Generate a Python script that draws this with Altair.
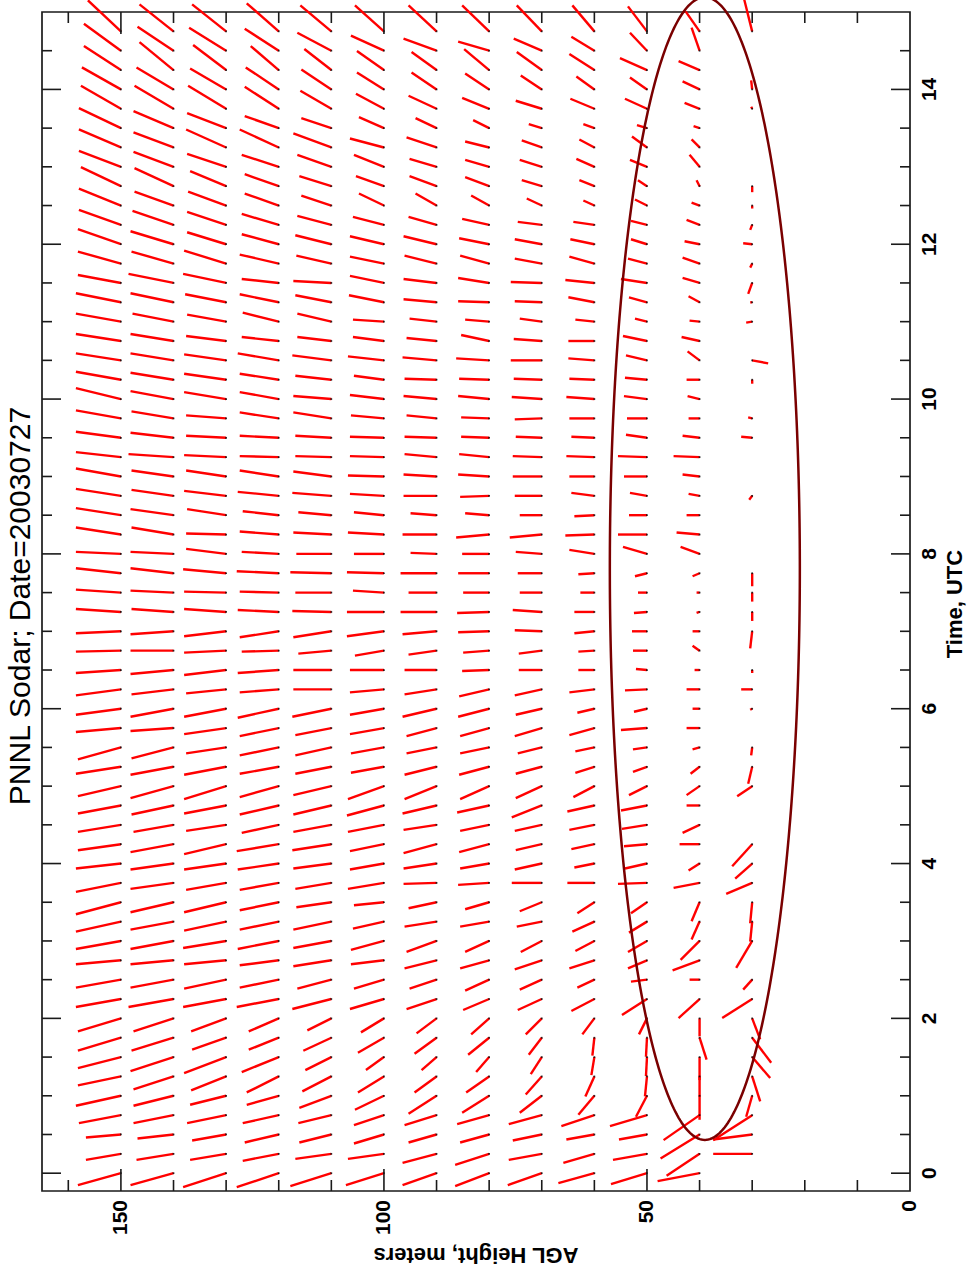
import altair as alt
import pandas as pd
import numpy as np

# ---------------- data ----------------
# observation times (UTC hours), one row of sticks every 15 minutes
TIMES = [0.0, 0.25, 0.5, 0.75, 1.0, 1.25, 1.5, 1.75, 2.0, 2.25, 2.5, 2.75,
         3.0, 3.25, 3.5, 3.75, 4.0, 4.25, 4.5, 4.75, 5.0, 5.25, 5.5, 5.75,
         6.0, 6.25, 6.5, 6.75, 7.0, 7.25, 7.5, 7.75, 8.0, 8.25, 8.5, 8.75,
         9.0, 9.25, 9.5, 9.75, 10.0, 10.25, 10.5, 10.75, 11.0, 11.25, 11.5, 11.75,
         12.0, 12.25, 12.5, 12.75, 13.0, 13.25, 13.5, 13.75, 14.0, 14.25, 14.5, 14.75]

# wind stick components (u along height axis, v along time axis), one per time step
W150 = [(43,-12),(35,-6),(35,-3),(42,-8),
        (45,-10),(43,-9),(43,-11),(43,-13),
        (43,-13),(45,-8),(45,-8),(45,-4),
        (45,-8),(45,-10),(45,-12),(45,-9),
        (45,-5),(43,-6),(43,-7),(43,-8),
        (43,-10),(45,-7),(43,-12),(45,-4),
        (45,-6),(45,-6),(45,-3),(45,-1),
        (45,-2),(45,3),(45,3),(45,5),
        (45,2),(45,7),(45,7),(45,7),
        (45,8),(45,5),(45,6),(45,8),
        (45,11),(45,8),(45,7),(45,7),
        (45,8),(45,9),(43,8),(43,12),
        (43,15),(42,15),(42,17),(40,19),
        (42,16),(42,18),(42,20),(40,23),
        (39,22),(37,24),(37,27),(33,31)]
W140 = [(43,-12),(37,-6),(36,-4),(40,-8),
        (40,-10),(40,-13),(43,-14),(42,-13),
        (40,-13),(45,-8),(43,-8),(43,-4),
        (43,-8),(43,-8),(43,-10),(43,-6),
        (43,-6),(43,-8),(40,-7),(42,-9),
        (43,-12),(43,-8),(42,-11),(43,-3),
        (43,-8),(42,-5),(43,-4),(43,0),
        (43,-3),(42,3),(43,2),(43,5),
        (43,2),(42,7),(43,6),(42,6),
        (42,6),(45,3),(43,5),(42,7),
        (43,8),(43,7),(43,7),(43,7),
        (41,8),(43,9),(45,9),(42,12),
        (43,13),(41,14),(39,14),(39,18),
        (40,15),(40,15),(40,17),(39,23),
        (37,22),(34,28),(36,24),(34,27)]
W130 = [(43,-14),(36,-6),(34,-6),(39,-8),
        (36,-9),(35,-14),(42,-16),(34,-12),
        (35,-13),(43,-8),(42,-9),(42,-4),
        (43,-7),(42,-9),(42,-10),(40,-7),
        (42,-6),(42,-10),(40,-6),(42,-8),
        (42,-13),(42,-8),(40,-6),(42,-6),
        (42,-8),(40,-4),(42,-5),(42,-2),
        (42,-5),(42,3),(42,1),(43,4),
        (40,5),(40,1),(39,6),(42,5),
        (40,6),(42,2),(40,2),(40,3),
        (42,7),(42,6),(42,6),(40,5),
        (39,7),(41,8),(43,9),(42,13),
        (39,12),(39,13),(38,14),(36,15),
        (39,13),(40,18),(39,15),(38,23),
        (36,21),(33,25),(37,23),(34,27)]
W120 = [(42,-14),(36,-7),(34,-8),(36,-8),
        (32,-9),(32,-16),(37,-15),(30,-12),
        (30,-13),(42,-8),(39,-8),(39,-5),
        (41,-8),(39,-8),(39,-8),(39,-7),
        (41,-6),(42,-7),(37,-8),(39,-9),
        (39,-11),(39,-7),(39,-8),(39,-8),
        (41,-9),(39,-3),(41,-3),(37,-1),
        (39,-6),(41,2),(39,1),(42,2),
        (37,2),(39,3),(36,4),(41,4),
        (39,6),(39,1),(39,2),(39,6),
        (39,7),(39,6),(41,7),(37,4),
        (36,9),(39,8),(37,4),(39,9),
        (37,10),(37,11),(34,12),(34,12),
        (37,12),(39,18),(34,12),(34,22),
        (33,22),(28,24),(34,22),(32,28)]
W110 = [(41,-13),(36,-5),(32,-8),(33,-8),
        (32,-12),(29,-15),(26,-13),(28,-13),
        (24,-12),(39,-10),(34,-9),(38,-6),
        (38,-7),(38,-8),(35,-5),(36,-6),
        (38,-5),(39,-6),(38,-7),(38,-9),
        (38,-9),(36,-7),(36,-8),(36,-7),
        (39,-8),(38,0),(38,0),(33,-3),
        (38,-6),(39,1),(36,0),(41,1),
        (35,0),(38,2),(33,3),(39,3),
        (38,5),(36,1),(36,2),(38,6),
        (38,3),(36,4),(39,5),(34,4),
        (34,8),(36,7),(38,2),(35,8),
        (36,9),(34,9),(30,10),(32,10),
        (34,12),(38,14),(30,10),(31,18),
        (30,20),(27,21),(34,18),(31,26)]
W100 = [(38,-12),(36,-5),(30,-9),(30,-10),
        (29,-14),(26,-16),(18,-13),(26,-15),
        (23,-14),(34,-10),(30,-9),(33,-4),
        (33,-9),(31,-7),(30,-3),(36,-6),
        (34,-6),(34,-7),(36,-7),(37,-10),
        (36,-13),(33,-6),(33,-6),(34,-6),
        (34,-6),(34,-3),(34,0),(29,-5),
        (37,-5),(37,0),(31,2),(37,1),
        (30,0),(36,2),(30,3),(34,2),
        (36,1),(34,1),(34,1),(33,3),
        (34,4),(30,4),(36,4),(31,4),
        (31,2),(35,7),(34,7),(34,7),
        (34,8),(31,8),(25,12),(28,10),
        (30,12),(34,9),(25,11),(28,15),
        (27,17),(27,19),(33,15),(29,26)]
W90 = [(34,-12),(34,-9),(28,-8),(32,-10),
       (28,-18),(22,-16),(15,-13),(22,-16),
       (20,-15),(30,-10),(27,-9),(32,-8),
       (30,-11),(32,-5),(28,-6),(33,-1),
       (33,-5),(33,-9),(33,-5),(34,-8),
       (32,-13),(32,-8),(30,-6),(30,-8),
       (34,-8),(32,-5),(32,0),(28,-4),
       (34,-3),(36,0),(28,0),(36,0),
       (26,1),(34,0),(26,2),(33,0),
       (33,2),(32,3),(32,1),(30,3),
       (33,3),(32,1),(34,3),(30,3),
       (27,3),(33,3),(33,4),(32,8),
       (33,8),(28,8),(21,12),(27,10),
       (27,8),(30,10),(21,10),(28,13),
       (25,17),(25,18),(33,12),(28,26)]
W80 = [(34,-13),(34,-11),(29,-8),(32,-9),
       (27,-17),(23,-16),(13,-15),(21,-17),
       (18,-16),(26,-11),(24,-11),(29,-8),
       (24,-11),(29,-5),(24,-7),(31,-2),
       (29,-5),(30,-8),(29,-6),(32,-7),
       (29,-13),(30,-8),(29,-6),(29,-8),
       (31,-8),(30,-7),(27,-1),(26,-2),
       (31,-1),(32,-1),(26,0),(31,0),
       (27,0),(33,-3),(24,2),(29,-1),
       (31,2),(30,3),(28,1),(28,1),
       (31,3),(30,1),(33,2),(28,6),
       (24,2),(31,1),(31,5),(29,8),
       (30,6),(27,6),(18,10),(24,9),
       (24,7),(24,6),(16,8),(27,11),
       (24,16),(25,21),(31,9),(27,26)]
W70 = [(34,-12),(33,-6),(29,-6),(33,-9),
       (22,-17),(16,-18),(11,-17),(13,-17),
       (16,-16),(24,-11),(22,-10),(27,-9),
       (21,-11),(25,-5),(22,-9),(30,0),
       (27,-6),(26,-6),(27,-6),(30,-12),
       (26,-12),(26,-7),(24,-6),(27,-8),
       (26,-6),(27,-6),(23,0),(23,-3),
       (27,1),(29,2),(22,0),(24,0),
       (26,2),(32,-3),(22,0),(27,0),
       (29,0),(29,1),(26,1),(27,-1),
       (30,2),(28,1),(31,0),(28,2),
       (22,3),(27,1),(31,1),(27,5),
       (27,5),(24,3),(15,7),(20,6),
       (22,7),(20,7),(13,4),(26,8),
       (21,14),(25,18),(28,12),(25,26)]
W60 = [(36,-10),(31,-9),(28,-5),(33,-11),
       (16,-19),(9,-20),(3,-18),(2,-18),
       (12,-16),(23,-12),(17,-8),(25,-8),
       (19,-10),(22,-10),(17,-11),(27,0),
       (20,-4),(23,-5),(25,-5),(27,-6),
       (21,-11),(19,-6),(19,-4),(25,-7),
       (17,-4),(25,-3),(16,0),(16,-1),
       (20,-2),(20,0),(14,0),(16,-1),
       (25,4),(29,-1),(20,-1),(23,3),
       (25,0),(28,1),(23,1),(25,0),
       (28,2),(25,1),(26,2),(26,0),
       (19,2),(26,5),(29,3),(25,7),
       (24,5),(21,3),(11,5),(15,6),
       (18,8),(15,8),(11,4),(24,10),
       (18,13),(25,16),(23,14),(22,26)]
W50 = [(36,-11),(34,-6),(28,-5),(37,-11),
       (11,-21),(2,-20),(1,-19),(1,-19),
       (8,-16),(25,-16),(16,-2),(19,-8),
       (19,-11),(18,-11),(16,-11),(29,-1),
       (22,-5),(23,-2),(25,-4),(26,-5),
       (18,-9),(14,-5),(14,-2),(26,-2),
       (13,-3),(22,-1),(11,1),(14,0),
       (15,0),(13,-1),(9,0),(12,-3),
       (24,7),(29,0),(18,0),(17,3),
       (23,0),(29,1),(21,3),(20,0),
       (23,3),(22,2),(21,5),(24,5),
       (12,3),(18,5),(26,4),(19,5),
       (16,5),(16,4),(12,6),(9,6),
       (17,7),(15,11),(10,3),(22,10),
       (17,12),(27,12),(17,18),(19,25)]
W40 = [(42,-8),(33,-22),(39,-24),(36,-25),
       (0,-24),(0,-20),(0,-23),(-7,-22),
       (0,-18),(21,-19),(10,0),(27,-10),
       (19,-19),(8,-18),(8,-19),(26,-5),
       (11,-7),(20,0),(17,-8),(13,0),
       (13,-9),(9,-7),(7,-2),(13,0),
       (7,0),(13,0),(5,0),(7,5),
       (7,0),(3,-1),(3,0),(7,-3),
       (19,7),(23,2),(13,0),(11,2),
       (17,2),(26,1),(17,2),(11,0),
       (12,3),(13,0),(12,9),(18,4),
       (10,1),(11,6),(17,5),(17,6),
       (15,3),(13,5),(8,3),(3,6),
       (10,12),(8,8),(6,2),(15,6),
       (17,8),(21,9),(8,23),(14,20)]
W30 = [None,(39,0),(39,-5),(39,-25),
       (6,-21),(-8,-25),(-18,-21),(-19,-25),
       (-8,-21),(30,-19),(9,-10),None,
       (16,-27),(2,-20),(2,-21),(26,-11),
       (17,-15),(20,-22),None,None,
       (15,-10),(4,-17),(1,-8),None,
       (2,-1),(11,0),(0,-3),None,
       (2,-17),(0,-9),(0,-9),(0,-13),
       None,None,None,(3,-4),
       None,None,(11,1),(4,1),
       None,(0,-4),(-16,-3),None,
       (6,-1),(2,0),(4,-11),(2,-4),
       (9,1),(2,-5),(0,-3),(0,-6),
       None,None,None,(1,2),
       (1,9),None,None,(8,32)]

WIND = {150: W150, 140: W140, 130: W130, 120: W120, 110: W110, 100: W100,
        90: W90, 80: W80, 70: W70, 60: W60, 50: W50, 40: W40, 30: W30}

HEIGHT_TICKS = [10, 20, 30, 40, 60, 70, 80, 90, 110, 120, 130, 140, 160]
HEIGHT_MAJOR = [50, 100, 150]
HEIGHT_LABELS = [0, 50, 100, 150]
TIME_TICKS = [0.5, 1.5, 2.5, 3.5, 4.5, 5.5, 6.5, 7.5, 8.5, 9.5, 10.5, 11.5, 12.5, 13.5, 14.5,
              1, 3, 5, 7, 9, 11, 13]
TIME_MAJOR = [0, 2, 4, 6, 8, 10, 12, 14]
TIME_LABELS = [0, 2, 4, 6, 8, 10, 12, 14]

TITLE = "PNNL Sodar; Date=20030727"
TIME_TITLE = "Time, UTC"
HEIGHT_TITLE = "AGL Height, meters"

# annotation ellipse (centre and semi-axes in height metres / hours)
ELL_CENTER = (39.0, 7.81)
ELL_SEMI = (18.06, 7.38)

# ---------------- layout ----------------
PW, PH = 868, 1179
H_DOM = [0, 165]
T_DOM = [-0.23, 15]
px_per_m = PW / (H_DOM[1] - H_DOM[0])
px_per_h = PH / (T_DOM[1] - T_DOM[0])

rows = []
for h, series in WIND.items():
    assert len(series) == len(TIMES), h
    for t, uv in zip(TIMES, series):
        if uv is None:
            continue
        u, v = uv
        rows.append({"h": h, "t": t, "h2": h + u / px_per_m, "t2": t + v / px_per_h})
sticks = pd.DataFrame(rows)

theta = np.linspace(0, 2 * np.pi, 361)
ell = pd.DataFrame({
    "h": ELL_CENTER[0] + ELL_SEMI[0] * np.cos(theta),
    "t": ELL_CENTER[1] + ELL_SEMI[1] * np.sin(theta),
    "i": np.arange(len(theta)),
})

xs = alt.Scale(domain=H_DOM, reverse=True, nice=False, zero=False)
ys = alt.Scale(domain=T_DOM, nice=False, zero=False)
X = lambda f="h": alt.X(f"{f}:Q", scale=xs, axis=None)
Y = lambda f="t": alt.Y(f"{f}:Q", scale=ys, axis=None)

FRAME = "#1a1a1a"
FONT = "Liberation Sans"

stick_layer = alt.Chart(sticks).mark_rule(color="#ff0000", strokeWidth=2.4).encode(
    x=X(), x2="h2:Q", y=Y(), y2="t2:Q")
dot_layer = alt.Chart(sticks).mark_square(size=3, color="#000000", opacity=0.8).encode(
    x=X(), y=Y())

def hticks(vals, length):
    df = pd.DataFrame({"h": vals})
    bot = alt.Chart(df).mark_rule(color=FRAME, strokeWidth=1.6).encode(
        x=X(), y=alt.value(PH), y2=alt.value(PH - length))
    top = alt.Chart(df).mark_rule(color=FRAME, strokeWidth=1.6).encode(
        x=X(), y=alt.value(0), y2=alt.value(length))
    return [bot, top]

def tticks(vals, length):
    df = pd.DataFrame({"t": vals})
    left = alt.Chart(df).mark_rule(color=FRAME, strokeWidth=1.6).encode(
        y=Y(), x=alt.value(0), x2=alt.value(length))
    right = alt.Chart(df).mark_rule(color=FRAME, strokeWidth=1.6).encode(
        y=Y(), x=alt.value(PW), x2=alt.value(PW - length))
    return [left, right]

tick_layers = (hticks(HEIGHT_TICKS, 11) + hticks(HEIGHT_MAJOR, 22)
               + tticks(TIME_TICKS, 10) + tticks(TIME_MAJOR, 19))

hlab = alt.Chart(pd.DataFrame({"h": HEIGHT_LABELS})).mark_text(
    font=FONT, fontSize=21, fontWeight="bold", angle=270, align="right",
    baseline="middle", color="black"
).encode(x=X(), y=alt.value(PH + 9), text="h:Q")

tlab = alt.Chart(pd.DataFrame({"t": TIME_LABELS})).mark_text(
    font=FONT, fontSize=21, fontWeight="bold", angle=270, align="center",
    baseline="middle", color="black"
).encode(y=Y(), x=alt.value(PW + 20), text="t:Q")

one = pd.DataFrame({"a": [0]})
title = alt.Chart(one).mark_text(
    text=TITLE, font=FONT, fontSize=30, angle=270, align="center", baseline="middle", color="black"
).encode(x=alt.value(-21), y=alt.value(594))
ttitle = alt.Chart(one).mark_text(
    text=TIME_TITLE, font=FONT, fontSize=22, fontWeight="bold", angle=270, align="center",
    baseline="middle", color="black"
).encode(x=alt.value(PW + 45), y=alt.value(592))
htitle = alt.Chart(one).mark_text(
    text=HEIGHT_TITLE, font=FONT, fontSize=22, fontWeight="bold", angle=180, align="center",
    baseline="middle", color="black"
).encode(x=alt.value(434), y=alt.value(PH + 64))

ell_layer = alt.Chart(ell).mark_line(color="#7a0000", strokeWidth=2.5).encode(
    x=X(), y=Y(), order="i:Q")

chart = alt.layer(
    stick_layer, dot_layer, *tick_layers, hlab, tlab, title, ttitle, htitle, ell_layer
).properties(
    width=PW, height=PH,
    autosize=alt.AutoSizeParams(type="none"),
    padding={"left": 42, "top": 12, "right": 58, "bottom": 96},
    background="white",
).configure_view(stroke=FRAME, strokeWidth=1.7)

chart.save("out.html", embed_options={"renderer": "svg", "actions": False})
